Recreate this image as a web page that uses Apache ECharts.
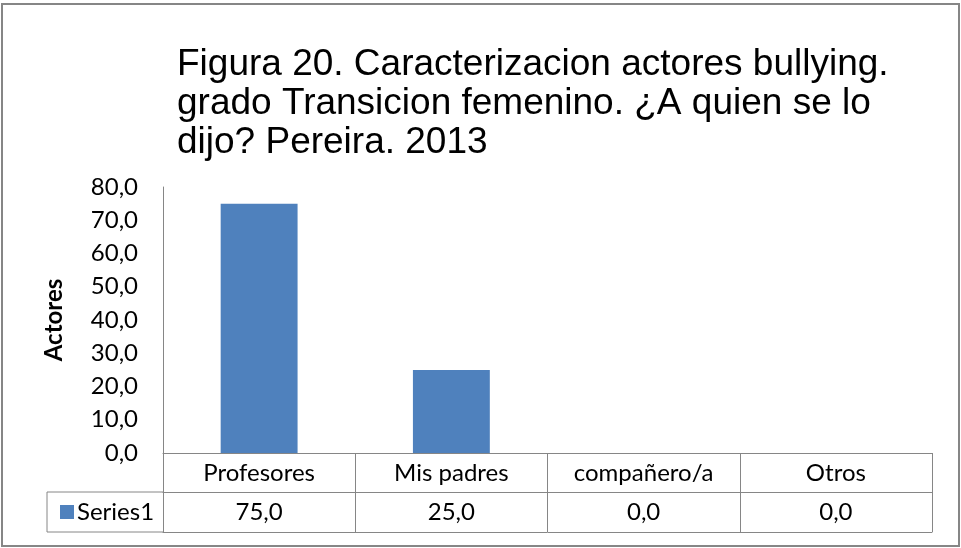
<!DOCTYPE html>
<html>
<head>
<meta charset="utf-8">
<title>Figura 20</title>
<script src="https://cdn.jsdelivr.net/npm/echarts@6/dist/echarts.min.js"></script>
<style>
  html, body { margin: 0; padding: 0; background: #fff; }
  #chart { width: 961px; height: 548px; }
</style>
</head>
<body>
<div id="chart"></div>
<script>
  // chart data
  const titleText = 'Figura 20. Caracterizacion actores bullying.\ngrado Transicion femenino. ¿A quien se lo\ndijo? Pereira. 2013'
  const categories = ['Profesores', 'Mis padres', 'compañero/a', 'Otros']
  const seriesName = 'Series1'
  const values = [75.0, 25.0, 0.0, 0.0]
  const yAxisName = 'Actores'

  const fmt = v => Number(v).toFixed(1).replace('.', ',')
  const lineColor = '#868686'
  const labelFont = 'Lato'

  const chart = echarts.init(document.getElementById('chart'))
  chart.setOption({
    animation: false,
    title: {
      text: titleText,
      left: 172,
      top: 40,
      textStyle: {
        fontFamily: 'Liberation Sans',
        fontSize: 37,
        fontWeight: 'normal',
        lineHeight: 39,
        color: '#000'
      }
    },
    legend: {
      data: [seriesName],
      left: 55,
      top: 495,
      icon: 'rect',
      itemWidth: 14,
      itemHeight: 14,
      itemGap: 4,
      textStyle: { fontFamily: labelFont, fontSize: 24, color: '#000', padding: [0, 0, 0, -2] }
    },
    grid: {
      left: 163,
      right: 29,
      top: 187,
      bottom: 95
    },
    xAxis: [
      {
        type: 'category',
        data: categories,
        position: 'bottom',
        axisLine: { lineStyle: { color: lineColor, width: 1 } },
        axisTick: { show: true, interval: 0, length: 39, lineStyle: { color: lineColor } },
        axisLabel: { margin: 8, fontFamily: labelFont, fontSize: 24, color: '#000', interval: 0 }
      },
      {
        type: 'category',
        data: categories,
        position: 'bottom',
        offset: 39,
        axisLine: { lineStyle: { color: lineColor, width: 1 } },
        axisTick: { show: true, interval: 0, length: 40, lineStyle: { color: lineColor } },
        axisLabel: {
          margin: 8, fontFamily: labelFont, fontSize: 24, color: '#000', interval: 0,
          formatter: (v, i) => fmt(values[i])
        }
      },
      {
        type: 'category',
        data: categories,
        position: 'bottom',
        offset: 79,
        axisLine: { lineStyle: { color: lineColor, width: 1 } },
        axisTick: { show: false },
        axisLabel: { show: false }
      }
    ],
    yAxis: {
      type: 'value',
      min: 0,
      max: 80,
      interval: 10,
      name: yAxisName,
      nameLocation: 'middle',
      nameGap: 97,
      nameTextStyle: { fontFamily: labelFont, fontSize: 24, fontWeight: 'bold', color: '#000' },
      axisLine: { show: true, lineStyle: { color: lineColor, width: 1 } },
      axisTick: { show: false },
      splitLine: { show: false },
      axisLabel: { margin: 25, fontFamily: labelFont, fontSize: 24, color: '#000', formatter: fmt }
    },
    series: [{
      name: seriesName,
      type: 'bar',
      xAxisIndex: 0,
      data: values,
      barWidth: '40%',
      itemStyle: { color: '#4f81bd' }
    }],
    graphic: [
      // outer chart border
      { type: 'rect', shape: { x: 2, y: 4, width: 957, height: 542 }, style: { fill: 'none', stroke: lineColor, lineWidth: 2 } },
      // legend cell of the data table
      { type: 'polyline', shape: { points: [[163, 492], [47, 492], [47, 532], [163, 532]] }, style: { fill: 'none', stroke: lineColor, lineWidth: 1 } }
    ]
  })
</script>
</body>
</html>
